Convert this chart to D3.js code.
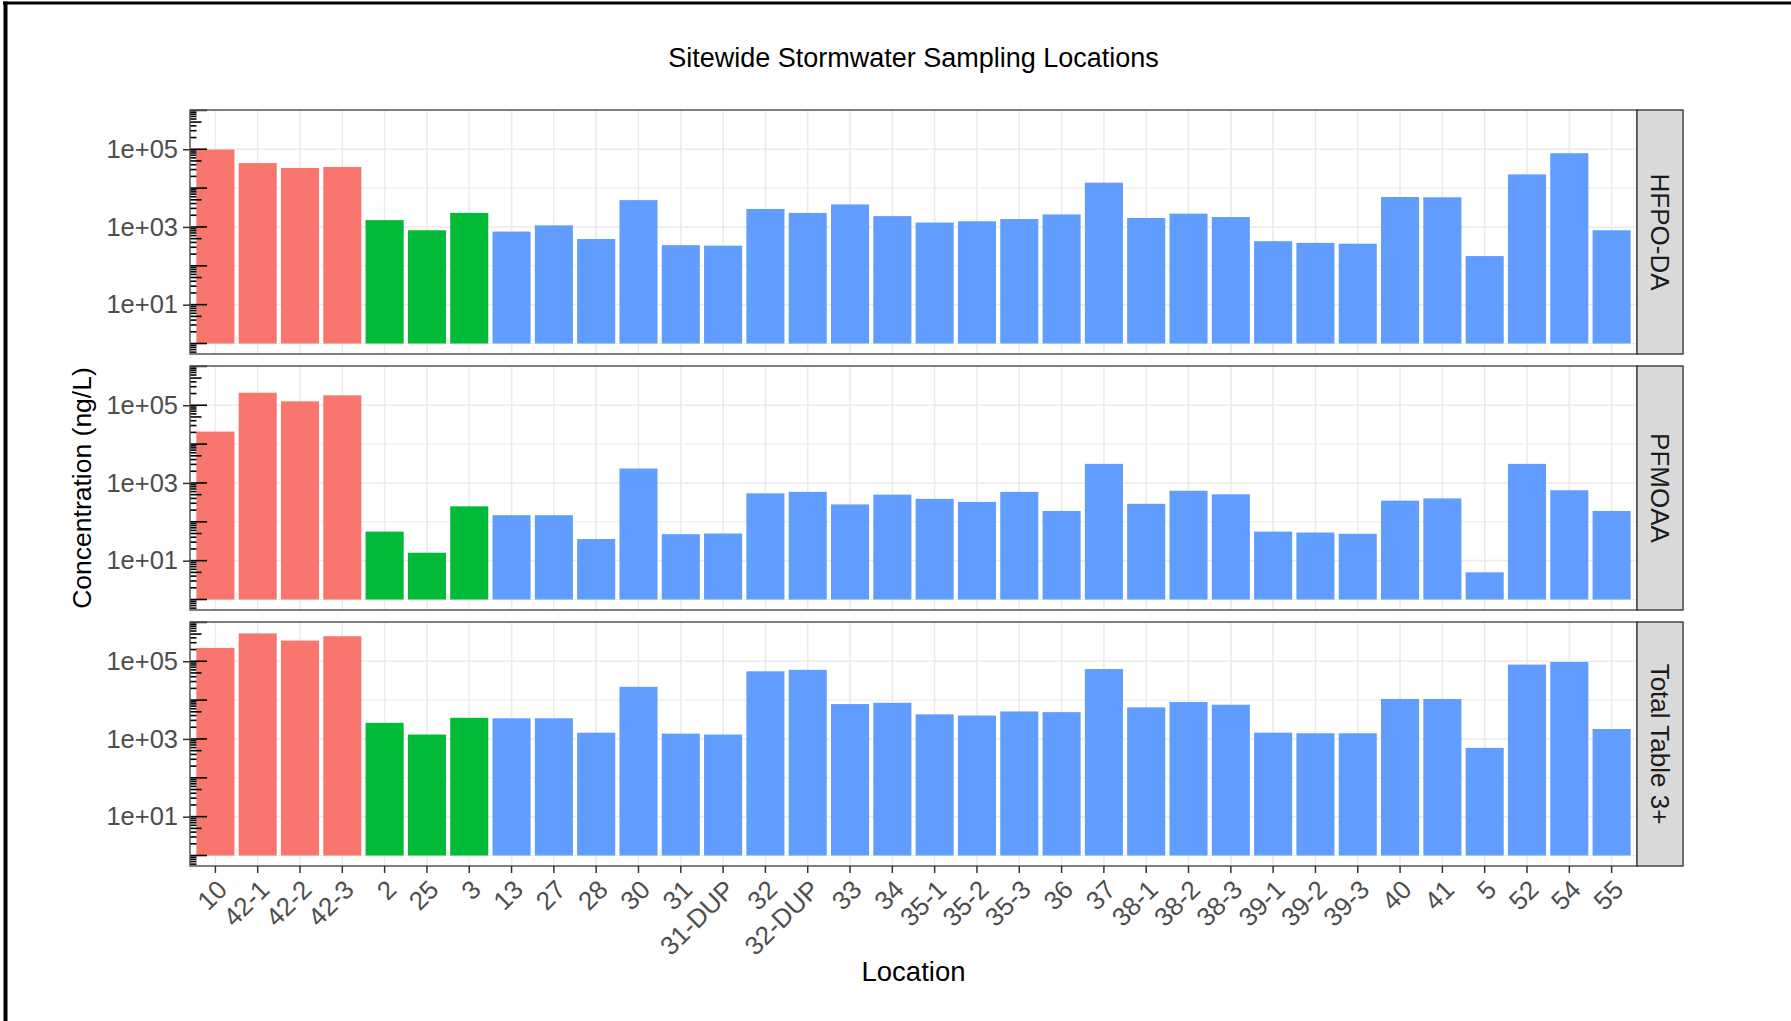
<!DOCTYPE html>
<html>
<head>
<meta charset="utf-8">
<script src="https://cdn.jsdelivr.net/npm/d3@7"></script>
<style>
body{margin:0;background:#fff;}
svg{display:block;font-family:"Liberation Sans",Arial,Helvetica,sans-serif;}
</style>
</head>
<body>
<div id="chart"></div>
<script>
// sampling locations, in plot order
var locations = ["10","42-1","42-2","42-3","2","25","3","13","27","28","30","31","31-DUP","32","32-DUP",
  "33","34","35-1","35-2","35-3","36","37","38-1","38-2","38-3","39-1","39-2","39-3","40","41","5","52","54","55"];
// fill group of each location
var locGroup = ["g1","g1","g1","g1","g2","g2","g2","g3","g3","g3","g3","g3","g3","g3","g3",
  "g3","g3","g3","g3","g3","g3","g3","g3","g3","g3","g3","g3","g3","g3","g3","g3","g3","g3","g3"];
// facets
var analytes = ["HFPO-DA","PFMOAA","Total Table 3+"];
// concentrations (ng/L)
var hfpoDA = [98000,44000,33000,35000,1500,820,2300,760,1100,490,4900,340,330,2900,2300,
  3800,1900,1300,1400,1600,2100,13800,1700,2200,1800,430,390,370,5900,5800,178,22500,79000,820];
var pfmoaa = [21000,210000,126000,180000,56,16,250,148,148,36,2350,48,50,540,590,
  280,500,390,325,590,190,3100,290,630,510,56,53,49,350,400,5.0,3100,650,190];
var totalT3 = [220000,520000,340000,440000,2600,1300,3500,3400,3400,1450,22000,1370,1300,55000,60000,
  7900,8500,4300,4000,5100,4900,63000,6500,8900,7600,1450,1400,1400,10700,10700,590,82000,96000,1800];
var series = [hfpoDA, pfmoaa, totalT3];
var yTickValues = [10, 1000, 100000];
var yTickLabels = ["1e+01","1e+03","1e+05"];

var W = 1791, H = 1021;
var panelLeft = 190, panelRight = 1637, stripW = 46;
var panelTops = [110, 366, 622], panelH = 244;

var svg = d3.select("#chart").append("svg")
    .attr("width", W).attr("height", H);

svg.append("rect").attr("width", W).attr("height", H).attr("fill", "#fff");
// outer frame (top and left edges only)
svg.append("rect").attr("x", 3).attr("y", 1.5).attr("width", W - 3).attr("height", 3).attr("fill", "#000");
svg.append("rect").attr("x", 3.5).attr("y", 1.5).attr("width", 4).attr("height", H).attr("fill", "#000");

var x = d3.scaleBand().domain(locations)
    .range([panelLeft, panelRight])
    .paddingInner(0.1).paddingOuter(0.15);
var y = d3.scaleLog()
    .domain([Math.pow(10, -0.27), Math.pow(10, 6.01)])
    .range([panelH, 0]);
var color = d3.scaleOrdinal().domain(["g1","g2","g3"]).range(["#F8766D","#00BA38","#619CFF"]);

// title
svg.append("text")
    .attr("x", (panelLeft + panelRight) / 2).attr("y", 67)
    .attr("text-anchor", "middle")
    .style("font-size", "27px").attr("fill", "#000")
    .text("Sitewide Stormwater Sampling Locations");

// log tick positions for annotation
var logTicks = [];
for (var k = -1; k <= 6; k++) {
  for (var m = 1; m <= 9; m++) {
    var v = m * Math.pow(10, k);
    if (v >= y.domain()[0] && v <= y.domain()[1]) logTicks.push({v: v, m: m});
  }
}

analytes.forEach(function(name, i) {
  var vals = series[i];
  var g = svg.append("g").attr("transform", "translate(0," + panelTops[i] + ")");

  g.append("rect").attr("x", panelLeft).attr("y", 0)
    .attr("width", panelRight - panelLeft).attr("height", panelH).attr("fill", "#fff");

  // grid
  g.selectAll(".minor").data([1, 100, 10000]).enter().append("line")
    .attr("x1", panelLeft).attr("x2", panelRight)
    .attr("y1", function(d) { return y(d); }).attr("y2", function(d) { return y(d); })
    .attr("stroke", "#ebebeb").attr("stroke-width", 1);
  g.selectAll(".major").data(yTickValues).enter().append("line")
    .attr("x1", panelLeft).attr("x2", panelRight)
    .attr("y1", function(d) { return y(d); }).attr("y2", function(d) { return y(d); })
    .attr("stroke", "#ebebeb").attr("stroke-width", 1.6);
  g.selectAll(".vgrid").data(locations).enter().append("line")
    .attr("x1", function(d) { return x(d) + x.bandwidth() / 2; })
    .attr("x2", function(d) { return x(d) + x.bandwidth() / 2; })
    .attr("y1", 0).attr("y2", panelH)
    .attr("stroke", "#ebebeb").attr("stroke-width", 1.6);

  // bars
  g.selectAll(".bar").data(vals).enter().append("rect")
    .attr("x", function(d, j) { return x(locations[j]); })
    .attr("width", x.bandwidth())
    .attr("y", function(d) { return y(d); })
    .attr("height", function(d) { return y(1) - y(d); })
    .attr("fill", function(d, j) { return color(locGroup[j]); });

  // log ticks inside left edge
  g.selectAll(".lt").data(logTicks).enter().append("line")
    .attr("x1", panelLeft)
    .attr("x2", function(d) { return panelLeft + (d.m === 1 ? 17 : d.m === 5 ? 11.5 : 6.5); })
    .attr("y1", function(d) { return y(d.v); }).attr("y2", function(d) { return y(d.v); })
    .attr("stroke", "#000").attr("stroke-width", 1.6);

  // panel border
  g.append("rect").attr("x", panelLeft).attr("y", 0)
    .attr("width", panelRight - panelLeft).attr("height", panelH)
    .attr("fill", "none").attr("stroke", "#555").attr("stroke-width", 1.5);

  // strip
  g.append("rect").attr("x", panelRight).attr("y", 0)
    .attr("width", stripW).attr("height", panelH)
    .attr("fill", "#d9d9d9").attr("stroke", "#444").attr("stroke-width", 1.5);
  g.append("text")
    .attr("transform", "translate(" + (panelRight + stripW / 2) + "," + (panelH / 2) + ") rotate(90)")
    .attr("dy", "0.36em").attr("text-anchor", "middle")
    .style("font-size", "26px").attr("fill", "#1a1a1a")
    .text(name);

  // y axis
  var ya = g.append("g").attr("transform", "translate(" + panelLeft + ",0)")
    .call(d3.axisLeft(y).tickValues(yTickValues)
      .tickFormat(function(d, j) { return yTickLabels[j]; })
      .tickSizeInner(7).tickSizeOuter(0).tickPadding(5));
  ya.select(".domain").remove();
  ya.selectAll(".tick line").attr("stroke", "#333").attr("stroke-width", 1.5);
  ya.selectAll(".tick text").attr("fill", "#4d4d4d").style("font-size", "25.5px")
    .style("font-family", "'Liberation Sans',Arial,sans-serif");
});

// x axis on the bottom panel
var xa = svg.append("g")
    .attr("transform", "translate(0," + (panelTops[2] + panelH) + ")")
    .call(d3.axisBottom(x).tickSizeInner(7).tickSizeOuter(0));
xa.select(".domain").remove();
xa.selectAll(".tick line").attr("stroke", "#333").attr("stroke-width", 1.5);
xa.selectAll(".tick text")
    .attr("x", 0).attr("y", 0).attr("dy", "0.72em")
    .attr("transform", "translate(0,12) rotate(-45)")
    .style("text-anchor", "end")
    .attr("fill", "#4d4d4d").style("font-size", "26px")
    .style("font-family", "'Liberation Sans',Arial,sans-serif");

// axis titles
svg.append("text")
    .attr("x", (panelLeft + panelRight) / 2).attr("y", 981)
    .attr("text-anchor", "middle")
    .style("font-size", "27.5px").attr("fill", "#000")
    .text("Location");
svg.append("text")
    .attr("transform", "translate(91," + (panelTops[0] + (panelTops[2] + panelH - panelTops[0]) / 2) + ") rotate(-90)")
    .attr("text-anchor", "middle")
    .style("font-size", "26.5px").attr("fill", "#000")
    .text("Concentration (ng/L)");
</script>
</body>
</html>
